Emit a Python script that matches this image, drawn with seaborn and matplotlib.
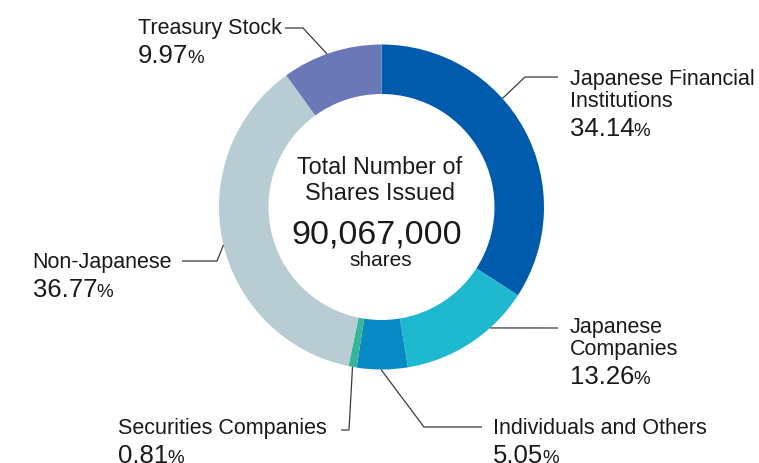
import numpy as np
import matplotlib
matplotlib.use("Agg")
import matplotlib.pyplot as plt
import seaborn as sns

# Shareholder composition (% of shares issued), clockwise from 12 o'clock
categories = [
    "Japanese Financial\nInstitutions",
    "Japanese\nCompanies",
    "Individuals and Others",
    "Securities Companies",
    "Non-Japanese",
    "Treasury Stock",
]
shares_pct = [34.14, 13.26, 5.05, 0.81, 36.77, 9.97]
colors = ["#005BAC", "#1EB9CE", "#0A8AC4", "#37B59A", "#B8CCD4", "#6B78B8"]

total_label = ["Total Number of", "Shares Issued"]
total_shares = "90,067,000"
total_unit = "shares"

sns.set_theme(style="white")
plt.rcParams["font.family"] = ["Liberation Sans", "DejaVu Sans"]

W, H = 759, 463
fig = plt.figure(figsize=(W / 100, H / 100), dpi=100)
ax = fig.add_axes([0, 0, 1, 1])

cx, cy, R, ring = 381.5, 207.0, 162.5, 49.5

# pixel-style axes: y grows downward, so increasing angle runs clockwise
ax.pie(
    shares_pct,
    colors=sns.color_palette(colors),
    startangle=-90,
    counterclock=True,
    center=(cx, cy),
    radius=R,
    wedgeprops=dict(width=ring, linewidth=0),
)
ax.set_xlim(0, W)
ax.set_ylim(H, 0)
ax.set_aspect("equal")
ax.axis("off")

TXT = "#1a1a1a"
LINE = "#3a3a3a"

# centre caption
ax.text(380, 174, total_label[0], ha="center", va="baseline", fontsize=16.8, color=TXT)
ax.text(380, 200, total_label[1], ha="center", va="baseline", fontsize=16.8, color=TXT)
ax.text(377, 244, total_shares, ha="center", va="baseline", fontsize=24.5, color=TXT)
ax.text(381, 266, total_unit, ha="center", va="baseline", fontsize=15, color=TXT)


def ring_point(bearing_deg, r=R):
    a = np.deg2rad(bearing_deg)
    return cx + r * np.sin(a), cy - r * np.cos(a)


# label layout: text x, alignment, name baseline, leader bearing, leader path after the ring
layout = [
    dict(x=570, ha="left", y=85, bearing=48.1, path=[(525, 77), (558, 77)]),
    dict(x=570, ha="left", y=333, bearing=138.1, path=[(558, 328)]),
    dict(x=493, ha="left", y=434, bearing=180.2, path=[(424, 427), (482, 427)]),
    dict(x=327, ha="right", y=434, bearing=None, path=[(349, 430), (341, 430)]),
    dict(x=172, ha="right", y=268, bearing=256.5, path=[(217, 261), (182, 261)]),
    dict(x=282, ha="right", y=34, bearing=340.4, path=[(303, 28), (285, 28)]),
]

# wedge mid-bearings for default leader anchors
edges = np.concatenate([[0], np.cumsum(shares_pct)]) * 3.6
mids = (edges[:-1] + edges[1:]) / 2

fig.canvas.draw()
renderer = fig.canvas.get_renderer()
inv = ax.transData.inverted()

for name, pct, lay, mid in zip(categories, shares_pct, layout, mids):
    lines = name.split("\n")
    line_gap = 22
    y0 = lay["y"]
    for i, ln in enumerate(lines):
        ax.text(lay["x"], y0 + i * line_gap, ln, ha=lay["ha"],
                va="baseline", fontsize=15.5, color=TXT)
    py = y0 + (len(lines) - 1) * line_gap + 29
    # percentage value starts at the text's left edge
    if lay["ha"] == "left":
        px = lay["x"]
    else:
        probe = ax.text(lay["x"], y0, lines[-1], ha="right", va="baseline", fontsize=15.5)
        bb = probe.get_window_extent(renderer)
        probe.remove()
        px = inv.transform((bb.x0, 0))[0]
    num = ax.text(px, py, f"{pct:.2f}", ha="left", va="baseline", fontsize=18.5, color=TXT)
    bb = num.get_window_extent(renderer)
    nx = inv.transform((bb.x1, 0))[0]
    ax.text(nx - 1.0, py, "%", ha="left", va="baseline", fontsize=13.5, color=TXT)

    bearing = lay["bearing"] if lay["bearing"] is not None else mid
    start = ring_point(bearing)
    pts = [start] + lay["path"]
    xs, ys = zip(*pts)
    ax.plot(xs, ys, color=LINE, lw=0.9, solid_capstyle="butt", solid_joinstyle="miter")

fig.savefig("out.png", dpi=100, facecolor="white")
